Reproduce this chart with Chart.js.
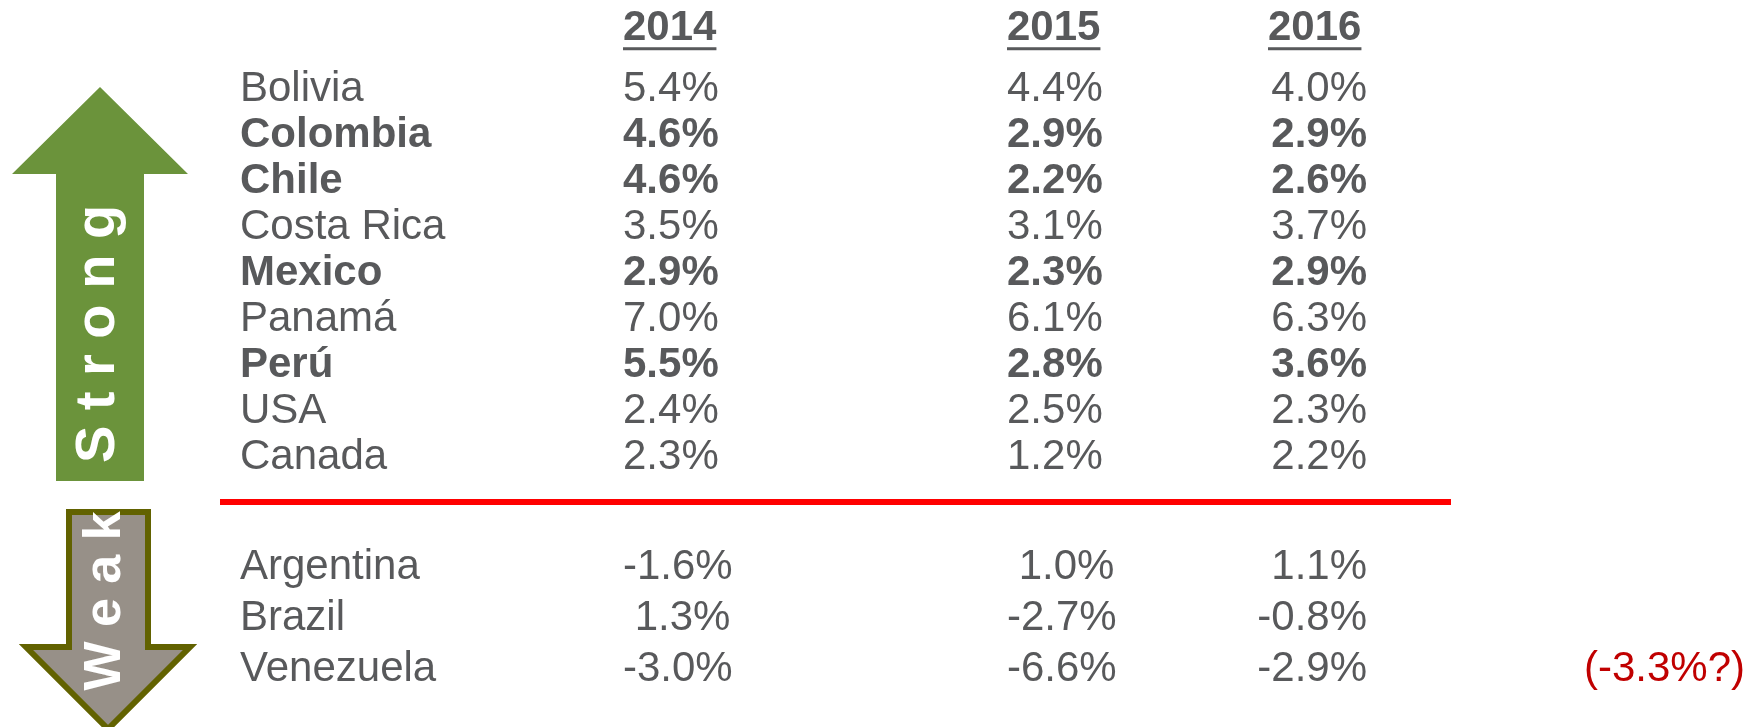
<!DOCTYPE html>
<html lang="en">
<head>
  <meta charset="UTF-8" />
  <title>GDP growth: strong vs weak economies</title>
  <script src="https://cdn.jsdelivr.net/npm/chart.js"></script>
  <style>
    body { margin: 0; background: #fff; }
    #wrap { width: 1747px; height: 727px; }
  </style>
</head>
<body>
  <div id="wrap"><canvas id="growthChart" width="1747" height="727"></canvas></div>
  <script>
    // data
    const years = ['2014', '2015', '2016'];
    const countries = ['Bolivia', 'Colombia', 'Chile', 'Costa Rica', 'Mexico', 'Panamá', 'Perú', 'USA', 'Canada',
                       'Argentina', 'Brazil', 'Venezuela'];
    const groups = ['strong', 'strong', 'strong', 'strong', 'strong', 'strong', 'strong', 'strong', 'strong',
                    'weak', 'weak', 'weak'];
    const boldRows = [false, true, true, false, true, false, true, false, false, false, false, false];
    const growth2014 = [5.4, 4.6, 4.6, 3.5, 2.9, 7.0, 5.5, 2.4, 2.3, -1.6, 1.3, -3.0];
    const growth2015 = [4.4, 2.9, 2.2, 3.1, 2.3, 6.1, 2.8, 2.5, 1.2, 1.0, -2.7, -6.6];
    const growth2016 = [4.0, 2.9, 2.6, 3.7, 2.9, 6.3, 3.6, 2.3, 2.2, 1.1, -0.8, -2.9];
    const noteCountry = 'Venezuela';
    const noteValue = -3.3;

    // layout
    const GRAY = '#58595b';
    const FONT = '"Liberation Sans", Arial, sans-serif';
    const nameX = 240;
    const colX = [623, 1007, 1367];
    const colAlign = ['left', 'left', 'right'];
    const headerX = [623, 1007, 1268];
    const noteX = 1745;
    const headerRow = -1.31;
    const weakStart = 10.4, weakStep = 1.11;
    const dividerRow = 8.73;
    const dividerX = [220, 1451];

    function rowPos(i) {
      const first = groups.indexOf(groups[i]);
      return groups[i] === 'strong' ? i - first : weakStart + (i - first) * weakStep;
    }

    function fmt(v, i) {
      const pad = groups[i] === 'weak' && v >= 0 ? ' ' : '';
      return pad + v.toFixed(1) + '%';
    }

    const yearValues = [growth2014, growth2015, growth2016];

    const datasets = [];
    datasets.push({
      label: 'header',
      data: years.map((y, k) => ({ x: headerX[k], y: headerRow })),
      texts: years,
      bold: years.map(() => true),
      underline: true,
      align: 'left'
    });
    datasets.push({
      label: 'country',
      data: countries.map((c, i) => ({ x: nameX, y: rowPos(i) })),
      texts: countries,
      bold: boldRows,
      align: 'left'
    });
    yearValues.forEach((vals, k) => {
      datasets.push({
        label: years[k],
        data: vals.map((v, i) => ({ x: colX[k], y: rowPos(i) })),
        texts: vals.map(fmt),
        bold: boldRows,
        align: colAlign[k]
      });
    });
    datasets.push({
      label: 'note',
      data: [{ x: noteX, y: rowPos(countries.indexOf(noteCountry)) }],
      texts: ['(' + noteValue.toFixed(1) + '%?)'],
      bold: [false],
      align: 'right',
      color: '#c00000'
    });
    datasets.push({
      type: 'line',
      label: 'divider',
      data: dividerX.map(x => ({ x: x, y: dividerRow })),
      borderColor: '#ff0000',
      borderWidth: 6,
      pointRadius: 0
    });

    const tableText = {
      id: 'tableText',
      afterDatasetsDraw(chart) {
        const ctx = chart.ctx;
        chart.data.datasets.forEach((ds, d) => {
          if (!ds.texts) return;
          const meta = chart.getDatasetMeta(d);
          meta.data.forEach((pt, i) => {
            ctx.save();
            ctx.font = (ds.bold[i] ? 'bold ' : '') + '42px ' + FONT;
            ctx.fillStyle = ds.color || GRAY;
            ctx.textAlign = ds.align;
            ctx.textBaseline = 'alphabetic';
            ctx.fillText(ds.texts[i], pt.x, pt.y);
            if (ds.underline) {
              const w = ctx.measureText(ds.texts[i]).width;
              ctx.fillRect(pt.x, pt.y + 7, w, 3);
            }
            ctx.restore();
          });
        });
      }
    };

    // the two direction arrows at the left
    const arrows = {
      id: 'arrows',
      beforeDatasetsDraw(chart) {
        const ctx = chart.ctx;
        ctx.save();
        // strong: green, pointing up
        ctx.beginPath();
        ctx.moveTo(100, 87);
        ctx.lineTo(188, 174);
        ctx.lineTo(144, 174);
        ctx.lineTo(144, 481);
        ctx.lineTo(56, 481);
        ctx.lineTo(56, 174);
        ctx.lineTo(12, 174);
        ctx.closePath();
        ctx.fillStyle = '#6b933b';
        ctx.fill();
        // weak: grey with olive border, pointing down
        ctx.beginPath();
        ctx.moveTo(69, 512);
        ctx.lineTo(148, 512);
        ctx.lineTo(148, 647);
        ctx.lineTo(190, 647);
        ctx.lineTo(108, 729);
        ctx.lineTo(26, 647);
        ctx.lineTo(69, 647);
        ctx.closePath();
        ctx.fillStyle = '#979088';
        ctx.fill();
        ctx.lineWidth = 6;
        ctx.lineJoin = 'miter';
        ctx.strokeStyle = '#626200';
        ctx.stroke();

        ctx.fillStyle = '#ffffff';
        ctx.textAlign = 'center';
        ctx.textBaseline = 'alphabetic';
        ctx.translate(114, 334);
        ctx.rotate(-Math.PI / 2);
        ctx.font = 'bold 56px ' + FONT;
        ctx.fillText('S t r o n g', 0, 0);
        ctx.restore();

        ctx.save();
        ctx.fillStyle = '#ffffff';
        ctx.textAlign = 'center';
        ctx.translate(120, 601);
        ctx.rotate(-Math.PI / 2);
        ctx.font = 'bold 52px ' + FONT;
        ctx.fillText('W e a k', 0, 0);
        ctx.restore();
      }
    };

    const growthChart = new Chart(document.getElementById('growthChart'), {
      type: 'scatter',
      data: { datasets: datasets },
      options: {
        responsive: false,
        animation: false,
        events: [],
        elements: { point: { radius: 0, hoverRadius: 0 } },
        layout: { padding: 0, autoPadding: false },
        plugins: { legend: { display: false }, tooltip: { enabled: false } },
        scales: {
          x: { type: 'linear', min: 0, max: 1747, display: false },
          y: { type: 'linear', min: -100.5 / 46, max: (727 - 100.5) / 46, reverse: true, display: false }
        }
      },
      plugins: [arrows, tableText]
    });
  </script>
</body>
</html>
